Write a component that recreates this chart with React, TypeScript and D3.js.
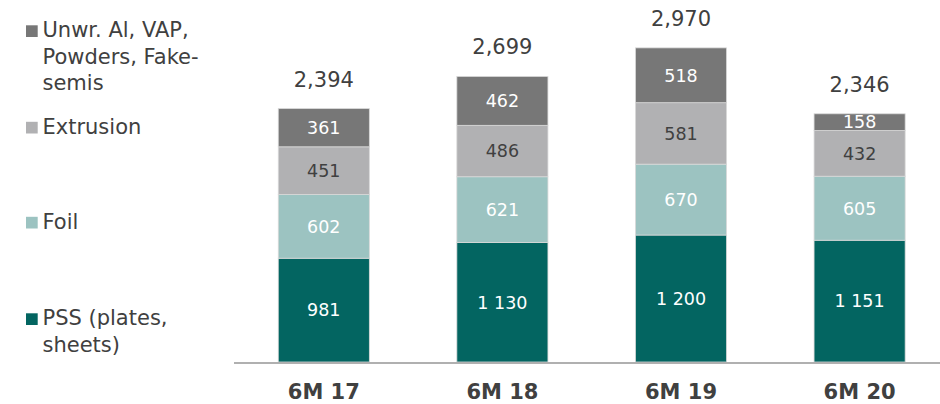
import React from "react";
import * as d3 from "d3";

const categories = ["6M 17", "6M 18", "6M 19", "6M 20"];
const pss = [981, 1130, 1200, 1151];
const foil = [602, 621, 670, 605];
const extrusion = [451, 486, 581, 432];
const unwrought = [361, 462, 518, 158];
const totals = ["2,394", "2,699", "2,970", "2,346"];
const pssLabels = ["981", "1 130", "1 200", "1 151"];

const seriesNames = ["pss", "foil", "extrusion", "unwrought"];
const seriesColors: Record<string, string> = {
  pss: "#036561",
  foil: "#9cc3c1",
  extrusion: "#b1b1b3",
  unwrought: "#777777",
};
const labelColors: Record<string, string> = {
  pss: "#ffffff",
  foil: "#ffffff",
  extrusion: "#404040",
  unwrought: "#ffffff",
};

const legendItems = [
  { key: "unwrought", lines: ["Unwr. Al, VAP,", "Powders, Fake-", "semis"], y: 37 },
  { key: "extrusion", lines: ["Extrusion"], y: 133.5 },
  { key: "foil", lines: ["Foil"], y: 228.5 },
  { key: "pss", lines: ["PSS (plates,", "sheets)"], y: 325 },
];

const W = 940;
const H = 404;
const FONT = "'DejaVu Sans', Verdana, sans-serif";
const TEXT = "#404040";

export default function App() {
  const table = categories.map((c, i) => ({
    cat: c,
    pss: pss[i],
    foil: foil[i],
    extrusion: extrusion[i],
    unwrought: unwrought[i],
  }));
  const stacked = d3.stack<any>().keys(seriesNames)(table);

  const x = d3
    .scaleBand<string>()
    .domain(categories)
    .range([234.5, 234.5 + 178.6 * 4])
    .paddingInner(0.49)
    .paddingOuter(0.245);
  const y = d3.scaleLinear().domain([0, 3000]).range([362, 44.6]);

  const labelText = (key: string, i: number, v: number) =>
    key === "pss" ? pssLabels[i] : String(v);

  return (
    <svg
      width={W}
      height={H}
      style={{ position: "absolute", left: 0, top: 0, background: "#fff" }}
      fontFamily={FONT}
    >
      {stacked.map((s) =>
        s.map((d, i) => {
          const cat = categories[i];
          const x0 = x(cat)!;
          const y0 = y(d[1]);
          const y1 = y(d[0]);
          return (
            <g key={s.key + cat}>
              <rect
                x={x0}
                y={y0}
                width={x.bandwidth()}
                height={y1 - y0}
                fill={seriesColors[s.key]}
                stroke="#d9d9d9"
                strokeWidth={0.8}
              />
              <text
                x={x0 + x.bandwidth() / 2}
                y={(y0 + y1) / 2}
                dy="0.36em"
                textAnchor="middle"
                fontSize={17.5}
                fill={labelColors[s.key]}
              >
                {labelText(s.key, i, d[1] - d[0])}
              </text>
            </g>
          );
        })
      )}
      {categories.map((c, i) => {
        const top = y(stacked[stacked.length - 1][i][1]);
        return (
          <text
            key={"t" + c}
            x={x(c)! + x.bandwidth() / 2}
            y={top - 22}
            textAnchor="middle"
            fontSize={21}
            fill={TEXT}
          >
            {totals[i]}
          </text>
        );
      })}
      <line x1={234} x2={940} y1={363} y2={363} stroke="#b0b0b0" strokeWidth={2} />
      {categories.map((c) => (
        <text
          key={"c" + c}
          x={x(c)! + x.bandwidth() / 2}
          y={399}
          textAnchor="middle"
          fontSize={21}
          fontWeight="bold"
          fill={TEXT}
        >
          {c}
        </text>
      ))}
      {legendItems.map((it) => (
        <g key={it.key}>
          <rect x={26} y={it.y - 11.7} width={11.7} height={11.7} fill={seriesColors[it.key]} />
          {it.lines.map((l, j) => (
            <text key={j} x={42.5} y={it.y + j * 26.6} fontSize={21} fill={TEXT}>
              {l}
            </text>
          ))}
        </g>
      ))}
    </svg>
  );
}
